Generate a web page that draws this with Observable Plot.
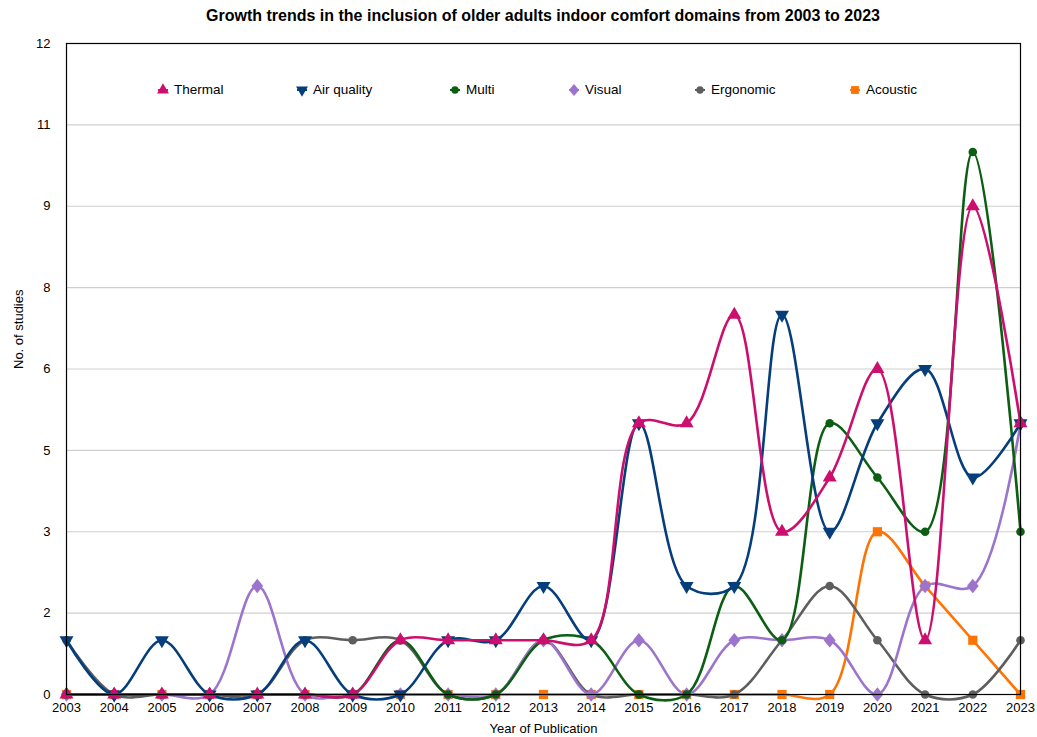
<!DOCTYPE html>
<html>
<head>
<meta charset="utf-8">
<script src="https://cdn.jsdelivr.net/npm/d3@7"></script>
<script src="https://cdn.jsdelivr.net/npm/@observablehq/plot@0.6"></script>
<style>
  html, body { margin: 0; padding: 0; background: #fff; }
  #wrap { position: relative; width: 1037px; height: 737px; font-family: "Liberation Sans", Arial, sans-serif; }
  #title { position: absolute; left: 0; top: 7px; width: 1086px; text-align: center; font-weight: bold; font-size: 16px; color: #000; }
  #legend { position: absolute; left: 0; top: 82px; width: 1037px; height: 20px; font-size: 13.5px; color: #000; }
  .item { position: absolute; top: 0; display: flex; align-items: center; gap: 5px; white-space: nowrap; }
  .item svg { overflow: visible; }
</style>
</head>
<body>
<div id="wrap">
  <div id="chart"></div>
  <div id="title">Growth trends in the inclusion of older adults indoor comfort domains from 2003 to 2023</div>
  <div id="legend"></div>
</div>
<script>
// ---- Data ----
const years = [2003,2004,2005,2006,2007,2008,2009,2010,2011,2012,2013,2014,2015,2016,2017,2018,2019,2020,2021,2022,2023];
const seriesNames = ["Thermal", "Air quality", "Multi", "Visual", "Ergonomic", "Acoustic"];
const thermal    = [0,0,0,0,0,0,0,1,1,1,1,1,5,5,7,3,4,6,1,9,5];
const airQuality = [1,0,1,0,0,1,0,0,1,1,2,1,5,2,2,7,3,5,6,4,5];
const multi      = [0,0,0,0,0,0,0,1,0,0,1,1,0,0,2,1,5,4,3,10,3];
const visual     = [0,0,0,0,2,0,0,0,0,0,1,0,1,0,1,1,1,0,2,2,5];
const ergonomic  = [1,0,0,0,0,1,1,1,0,0,1,0,0,0,0,1,2,1,0,0,1];
const acoustic   = [0,0,0,0,0,0,0,0,0,0,0,0,0,0,0,0,0,3,2,1,0];
const yTicks = [0, 1.5, 3, 4.5, 6, 7.5, 9, 10.5, 12];
const yTickLabels = ["0","2","3","5","6","8","9","11","12"];
const xLabel = "Year of Publication";
const yLabel = "No. of studies";

// ---- Styles ----
const triangleDown = {
  draw(context, size) {
    const y = -Math.sqrt(size / (Math.sqrt(3) * 3));
    context.moveTo(0, -y * 2);
    context.lineTo(-Math.sqrt(3) * y, y);
    context.lineTo(Math.sqrt(3) * y, y);
    context.closePath();
  }
};
const diamond = {
  draw(context, size) {
    const k = 0.82; // width / height
    const h = Math.sqrt(size / (2 * k));
    const w = h * k;
    context.moveTo(0, -h);
    context.lineTo(w, 0);
    context.lineTo(0, h);
    context.lineTo(-w, 0);
    context.closePath();
  }
};
const styles = {
  "Thermal":     {color: "#cc0f6e", symbol: "triangle", d3sym: d3.symbolTriangle, values: thermal},
  "Air quality": {color: "#053e7b", symbol: triangleDown, d3sym: triangleDown, values: airQuality},
  "Multi":       {color: "#0b5e12", symbol: "circle", d3sym: d3.symbolCircle, values: multi},
  "Visual":      {color: "#9d74cc", symbol: diamond, d3sym: diamond, values: visual},
  "Ergonomic":   {color: "#5e5e5e", symbol: "circle", d3sym: d3.symbolCircle, values: ergonomic},
  "Acoustic":    {color: "#fe7303", symbol: "square", d3sym: d3.symbolSquare, values: acoustic}
};
const drawOrder = ["Acoustic", "Ergonomic", "Visual", "Multi", "Air quality", "Thermal"];

const rows = name => years.map((yr, i) => ({year: yr, value: styles[name].values[i], series: name}));
const radius = name => (name === "Multi" || name === "Ergonomic") ? 4.3 : 5.2;

const marks = [
  Plot.gridY(yTicks, {stroke: "#cfcfcf", strokeOpacity: 1, strokeWidth: 1.2})
];
for (const name of drawOrder) {
  const s = styles[name];
  const data = rows(name);
  marks.push(Plot.line(data, {x: "year", y: "value", stroke: s.color, strokeWidth: 2.6, curve: "catmull-rom"}));
  marks.push(Plot.dot(data, {x: "year", y: "value", fill: s.color, stroke: "none", symbol: () => s.symbol, r: radius(name)}));
}
marks.push(Plot.frame({stroke: "#000", strokeWidth: 1.2}));
marks.push(Plot.axisX({ticks: years, tickFormat: d => String(d), tickSize: 0, tickPadding: 8, fontSize: 13, label: null}));
marks.push(Plot.axisY({ticks: yTicks, tickFormat: d => yTickLabels[yTicks.indexOf(d)], tickSize: 0, tickPadding: 16, fontSize: 13, label: null}));
marks.push(Plot.text([xLabel], {frameAnchor: "bottom", dy: 34, lineAnchor: "middle", fontSize: 13, fill: "#000"}));
marks.push(Plot.text([yLabel], {frameAnchor: "left", dx: -48, rotate: -90, fontSize: 13, fill: "#000"}));

const chart = Plot.plot({
  width: 1037,
  height: 737,
  marginLeft: 66,
  marginRight: 17,
  marginTop: 43,
  marginBottom: 43,
  style: {fontFamily: "'Liberation Sans', Arial, sans-serif", fontSize: "13px", color: "#000", background: "#fff"},
  x: {domain: [2003, 2023]},
  y: {domain: [0, 12]},
  marks
});
document.getElementById("chart").appendChild(chart);

// ---- Legend ----
const legendLeft = [157, 296, 449, 568, 694, 849];
const legend = document.getElementById("legend");
seriesNames.forEach((name, i) => {
  const s = styles[name];
  const item = document.createElement("div");
  item.className = "item";
  item.style.left = legendLeft[i] + "px";
  const rr = radius(name) * 0.85;
  const path = d3.symbol(s.d3sym, Math.PI * rr * rr)();
  item.innerHTML = `<svg width="12" height="14" viewBox="-6 -7 12 14"><line x1="-5" x2="5" y1="0" y2="0" stroke="${s.color}" stroke-width="2"/><path d="${path}" fill="${s.color}"/></svg><span>${name}</span>`;
  legend.appendChild(item);
});
</script>
</body>
</html>
